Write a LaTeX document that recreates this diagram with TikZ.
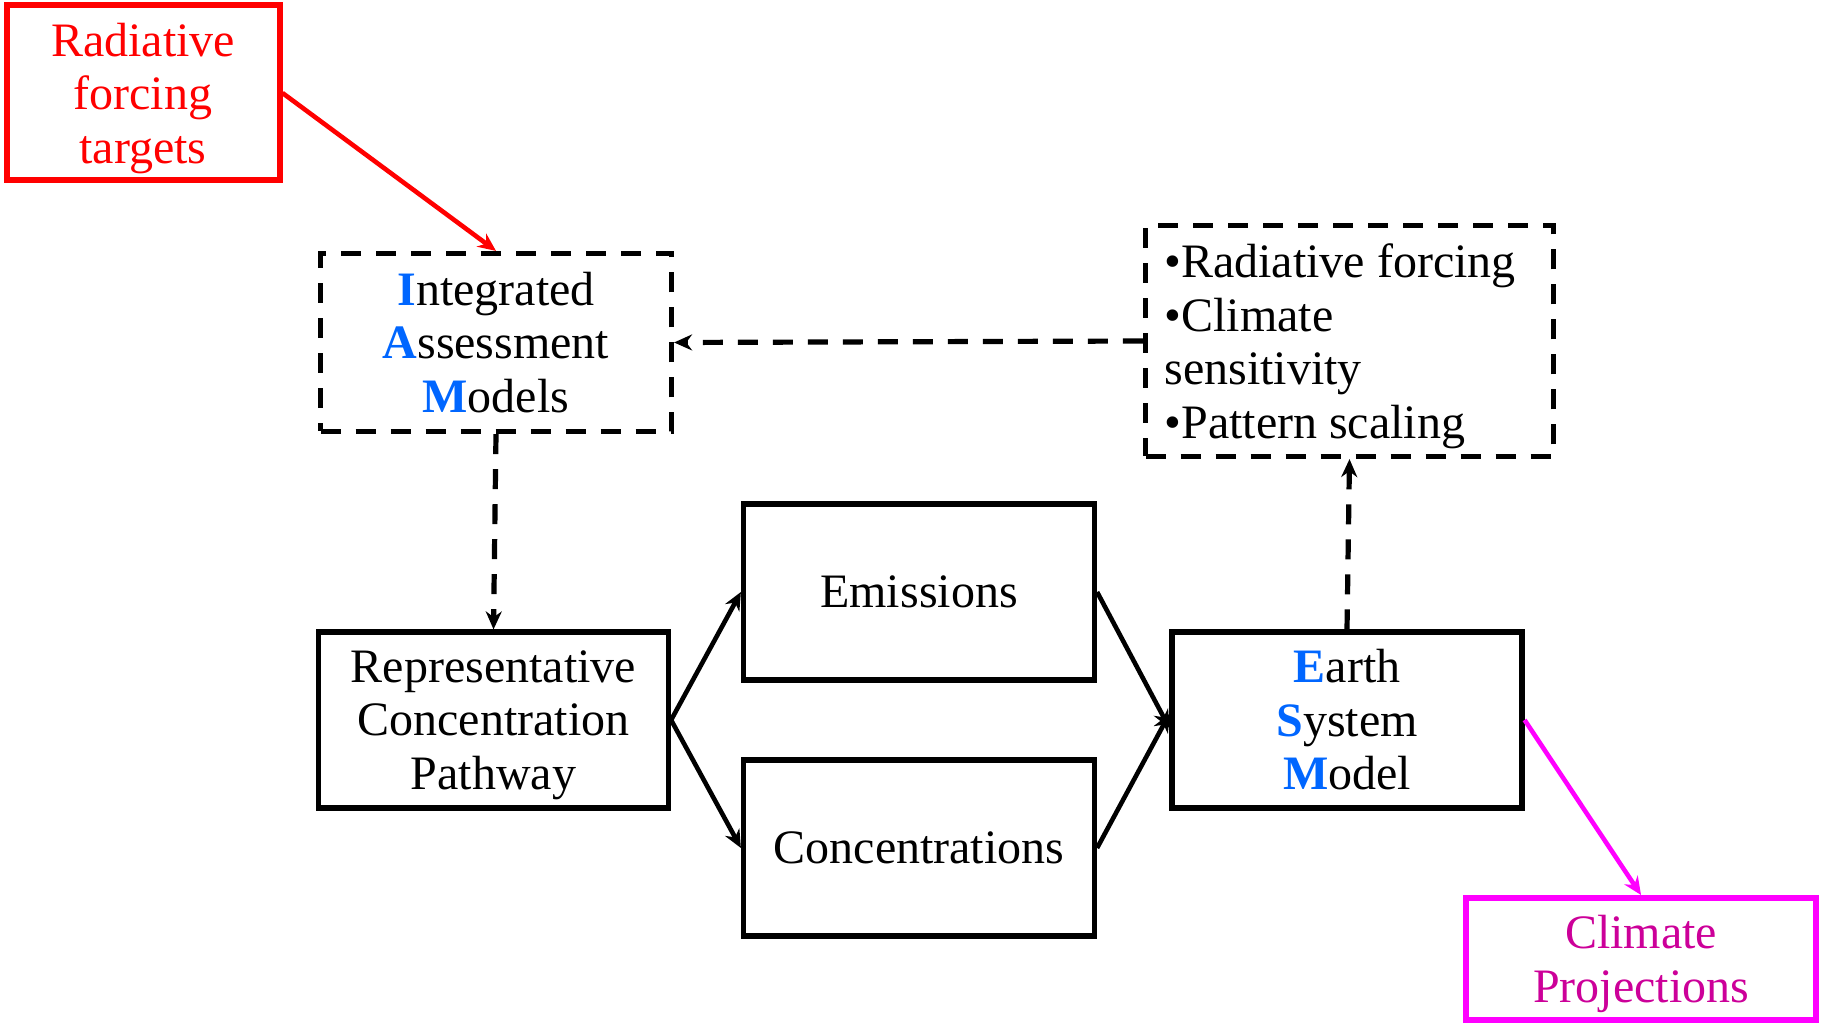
\documentclass[tikz,border=0pt]{standalone}
\usepackage{fontspec}
\setmainfont{Liberation Serif}
\usetikzlibrary{arrows.meta}

\definecolor{forcingred}{RGB}{255,0,0}
\definecolor{projmagenta}{RGB}{255,0,255}
\definecolor{projtext}{RGB}{204,0,153}
\definecolor{acronymblue}{RGB}{0,102,255}

\newcommand{\capletter}[1]{{\color{acronymblue}\textbf{#1}}}

\tikzset{every picture/.style={line width=2.5pt}}
\tikzset{
  box/.style={draw, line width=2.6pt, align=center, inner sep=0pt,
    font=\fontsize{24}{26.75}\selectfont},
  flatbox/.style={box, text depth=0pt},
  dashbox/.style={box, dash pattern=on 10pt off 7.5pt},
  flow/.style={-{Stealth[length=9pt,width=8pt]}, line width=2.3pt},
  dashflow/.style={flow, line width=2.6pt, dash pattern=on 10pt off 7.5pt},
}

\begin{document}
\begin{tikzpicture}[x=0.5pt,y=0.5pt,yscale=-1,xscale=1]
\useasboundingbox (0,0) rectangle (1821,1026);

%Shape: Rectangle [forcing targets]
\node [flatbox, draw=forcingred, line width=3pt, text=forcingred, minimum width=136.5pt, minimum height=87.5pt] (rft) at (143,93) {Radiative\\forcing\\targets};
%Shape: Rectangle [IAM]
\node [dashbox, minimum width=175.5pt, minimum height=89pt] (iam) at (496,342.5) {\capletter{I}ntegrated\\\capletter{A}ssessment\\\capletter{M}odels};
%Shape: Rectangle [outputs]
\node [dashbox, text depth=0pt, align=left, minimum width=204pt, minimum height=115.5pt] (outputs) at (1349.5,341) {\makebox[185pt][l]{\textbullet Radiative forcing}\\\textbullet Climate\\sensitivity\\\textbullet Pattern scaling};
%Shape: Rectangle [RCP]
\node [flatbox, minimum width=175pt, minimum height=88pt] (rcp) at (493.5,720) {Representative\\Concentration\\Pathway};
%Shape: Rectangle [emissions]
\node [box, minimum width=175.5pt, minimum height=88pt] (emis) at (919,592) {Emissions};
%Shape: Rectangle [concentrations]
\node [box, minimum width=175.5pt, minimum height=88pt] (conc) at (919,848) {Concentrations};
%Shape: Rectangle [ESM]
\node [box, minimum width=175pt, minimum height=88pt] (esm) at (1347,720) {\capletter{E}arth\\\capletter{S}ystem\\\capletter{M}odel};
%Shape: Rectangle [projections]
\node [flatbox, draw=projmagenta, line width=3pt, text=projtext, minimum width=175pt, minimum height=61pt] (proj) at (1641,959) {Climate\\Projections};

%Straight Lines
\draw [flow, forcingred] (rft.east) -- (iam.north);
\draw [dashflow] (outputs.west) -- (iam.east);
\draw [dashflow] (iam.south) -- (rcp.north);
\draw [flow] (rcp.east) -- (emis.west);
\draw [flow] (rcp.east) -- (conc.west);
\draw [flow] (emis.east) -- ([yshift=4pt]esm.west);
\draw [flow] (conc.east) -- ([yshift=-3pt]esm.west);
\draw [dashflow] (esm.north) -- (outputs.south);
\draw [flow, projmagenta] (esm.east) -- (proj.north);

\end{tikzpicture}
\end{document}
